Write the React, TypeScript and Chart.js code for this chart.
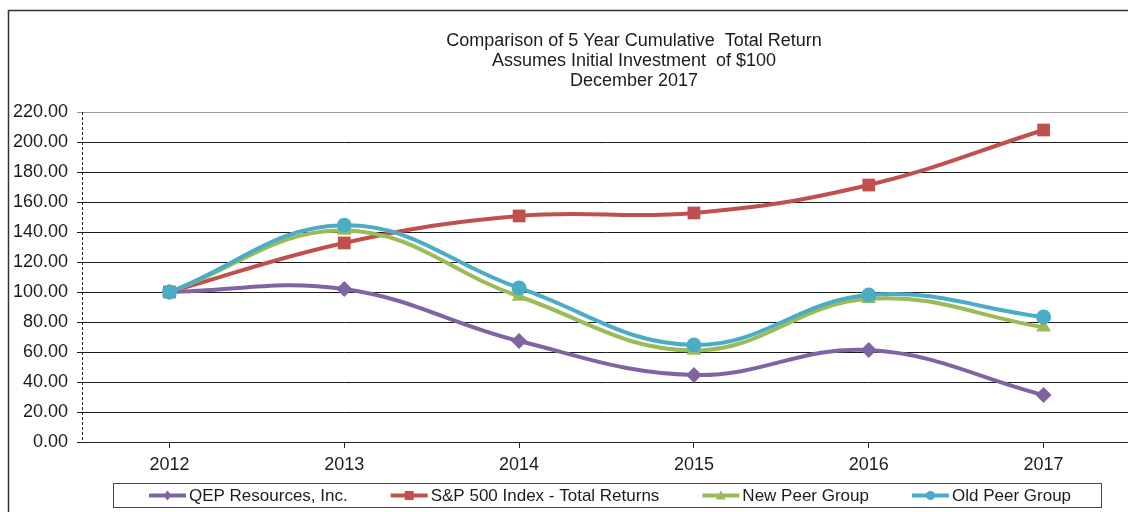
import React, { useEffect, useRef } from "react";
import { Chart, registerables } from "chart.js";

Chart.register(...registerables);

const years = ["2012", "2013", "2014", "2015", "2016", "2017"];
const qep = [100, 102, 67.3, 44.7, 61.3, 31.3];
const sp500 = [100, 132.7, 150.7, 152.7, 171.3, 208.0];
const newPeer = [100, 141, 97, 61, 95.5, 76.5];
const oldPeer = [100, 144.5, 102.7, 64.7, 98, 83.3];

const titleLines = [
  "Comparison of 5 Year Cumulative  Total Return",
  "Assumes Initial Investment  of $100",
  "December 2017",
];
const seriesNames = [
  "QEP Resources, Inc.",
  "S&P 500 Index - Total Returns",
  "New Peer Group",
  "Old Peer Group",
];
const seriesColors = ["#8064A2", "#C0504D", "#9BBB59", "#4BACC6"];
const seriesMarkers = ["rectRot", "rect", "triangle", "circle"];

const FONT = "'Liberation Sans', Arial, sans-serif";
const TEXT = "#1c1c1c";

const decorPlugin = {
  id: "decor",
  afterDraw(chart: any) {
    const ctx = chart.ctx as CanvasRenderingContext2D;
    const area = chart.chartArea;
    ctx.save();
    // dashed y axis line
    ctx.strokeStyle = "#222";
    ctx.lineWidth = 1;
    ctx.setLineDash([3, 2]);
    ctx.beginPath();
    ctx.moveTo(Math.round(area.left) + 0.5, area.top);
    ctx.lineTo(Math.round(area.left) + 0.5, area.bottom);
    ctx.stroke();
    ctx.setLineDash([]);
    // outer frame
    ctx.strokeStyle = "#333";
    ctx.lineWidth = 1.5;
    ctx.strokeRect(8.5, 10.5, 1400, 600);
    // title
    ctx.fillStyle = TEXT;
    ctx.font = `18px ${FONT}`;
    ctx.textAlign = "center";
    ctx.textBaseline = "middle";
    const ty = [41, 61, 81];
    titleLines.forEach((t, i) => ctx.fillText(t, 634, ty[i]));
    // legend
    const bx = 113, by = 483, bw = 988, bh = 24;
    ctx.fillStyle = "#fff";
    ctx.fillRect(bx, by, bw, bh);
    ctx.strokeStyle = "#444";
    ctx.lineWidth = 1;
    ctx.strokeRect(bx + 0.5, by + 0.5, bw, bh);
    ctx.font = `17px ${FONT}`;
    ctx.textAlign = "left";
    const lineLen = 37, gapT = 3, gapI = 43;
    const widths = seriesNames.map((n) => ctx.measureText(n).width);
    const total = widths.reduce((a, w) => a + lineLen + gapT + w, 0) + gapI * (seriesNames.length - 1);
    let x = bx + bw / 2 - total / 2 + 3;
    const cy = by + bh / 2 + 0.5;
    seriesNames.forEach((name, i) => {
      const col = seriesColors[i];
      ctx.strokeStyle = col;
      ctx.lineWidth = 4;
      ctx.beginPath();
      ctx.moveTo(x, cy);
      ctx.lineTo(x + lineLen, cy);
      ctx.stroke();
      const mx = x + lineLen / 2;
      ctx.fillStyle = col;
      ctx.beginPath();
      const m = seriesMarkers[i];
      if (m === "rectRot") {
        ctx.moveTo(mx, cy - 5); ctx.lineTo(mx + 4, cy); ctx.lineTo(mx, cy + 5); ctx.lineTo(mx - 4, cy); ctx.closePath();
      } else if (m === "rect") {
        ctx.rect(mx - 4.5, cy - 4.5, 9, 9);
      } else if (m === "triangle") {
        ctx.moveTo(mx, cy - 5); ctx.lineTo(mx + 5, cy + 4); ctx.lineTo(mx - 5, cy + 4); ctx.closePath();
      } else {
        ctx.arc(mx, cy, 4.5, 0, Math.PI * 2);
      }
      ctx.fill();
      ctx.fillStyle = TEXT;
      ctx.textBaseline = "middle";
      ctx.fillText(name, x + lineLen + gapT, cy + 1);
      x += lineLen + gapT + widths[i] + gapI;
    });
    ctx.restore();
  },
};

export default function App() {
  const ref = useRef<HTMLCanvasElement | null>(null);
  useEffect(() => {
    if (!ref.current) return;
    const all = [qep, sp500, newPeer, oldPeer];
    const radii = [8, 9, 8.5, 7.5];
    const chart = new Chart(ref.current, {
      type: "line",
      data: {
        labels: years,
        datasets: all.map((d, i) => ({
          label: seriesNames[i],
          data: d,
          borderColor: seriesColors[i],
          backgroundColor: seriesColors[i],
          borderWidth: 4,
          pointStyle: seriesMarkers[i] as any,
          pointRadius: radii[i],
          pointBorderWidth: 0,
          tension: 0.4,
          fill: false,
          order: 4 - i,
        })),
      },
      options: {
        responsive: false,
        animation: false,
        events: [],
        layout: { padding: { top: 112, right: 9, left: 0, bottom: 0 } },
        plugins: {
          legend: { display: false },
          title: { display: false },
          tooltip: { enabled: false },
        },
        scales: {
          x: {
            offset: true,
            grid: {
              offset: false,
              drawOnChartArea: false,
              drawTicks: true,
              tickLength: 6,
              color: "#222",
            },
            border: { display: true, color: "#222", width: 1 },
            ticks: {
              color: TEXT,
              font: { family: FONT, size: 18 },
              padding: 6,
              maxRotation: 0,
            },
            afterFit(scale: any) {
              scale.height = 70;
            },
          },
          y: {
            min: 0,
            max: 220,
            grid: {
              color: (c: any) => (c.tick && c.tick.value === 220 ? "#9a9a9a" : "#1a1a1a"),
              lineWidth: 1,
              tickLength: 5,
            },
            border: { display: false },
            ticks: {
              stepSize: 20,
              color: TEXT,
              font: { family: FONT, size: 18 },
              padding: 9,
              callback: (v: any) => Number(v).toFixed(2),
            },
            afterFit(scale: any) {
              scale.width = 82;
            },
          },
        },
      },
      plugins: [decorPlugin],
    });
    return () => chart.destroy();
  }, []);
  return (
    <div
      style={{
        position: "fixed",
        left: 0,
        top: 0,
        width: 1128,
        height: 512,
        overflow: "hidden",
        background: "#fff",
      }}
    >
      <canvas ref={ref} width={1140} height={512} style={{ display: "block" }} />
    </div>
  );
}
